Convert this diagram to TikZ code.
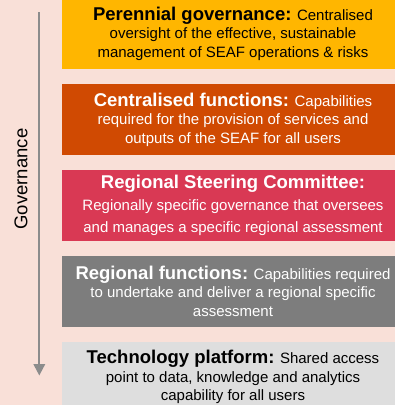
\documentclass[tikz,border=0pt]{standalone}
\usepackage{fontspec}
\setmainfont{Liberation Sans}
\usetikzlibrary{arrows.meta, positioning}
\definecolor{govyellow}{RGB}{255, 182, 0}
\definecolor{govorange}{RGB}{208, 74, 2}
\definecolor{govrose}{RGB}{217, 57, 84}
\definecolor{govgrey}{RGB}{125, 125, 125}
\definecolor{govlight}{RGB}{222, 222, 222}
\definecolor{govback}{RGB}{249, 224, 216}
\definecolor{govarrow}{RGB}{140, 140, 140}
\newcommand{\layerhead}[1]{{\fontsize{18.5}{18.5}\selectfont\bfseries #1}}

\begin{document}
\begin{tikzpicture}[x=1pt, y=-1pt,
  layer/.style={rectangle, minimum width=342pt, minimum height=71pt, inner sep=0pt, align=center, font=\fontsize{15}{18.5}\selectfont},
  node distance=14.5pt]
% Background
\clip (0,0) rectangle (395,405);
\fill[govback] (0,0) rectangle (395,405);

% Layers
\node[layer, fill=govyellow, text=black] (perennial) at (233,33.5) {\layerhead{Perennial governance:} Centralised\\oversight of the effective, sustainable\\management of SEAF operations \& risks};
\node[layer, fill=govorange, text=white, below=of perennial] (central) {\layerhead{Centralised functions:} Capabilities\\required for the provision of services and\\outputs of the SEAF for all users};
\node[layer, fill=govrose, text=white, font=\fontsize{15}{22}\selectfont, below=of central] (steering) {\layerhead{Regional Steering Committee:}\\Regionally specific governance that oversees\\and manages a specific regional assessment};
\node[layer, fill=govgrey, text=white, below=of steering] (regional) {\layerhead{Regional functions:} Capabilities required\\to undertake and deliver a regional specific\\assessment};
\node[layer, fill=govlight, text=black, below=of regional] (platform) {\layerhead{Technology platform:} Shared access\\point to data, knowledge and analytics\\capability for all users};

% Governance arrow
\coordinate (govtop) at (39.3,12);
\coordinate (govend) at (39.3,375.5);
\draw[-{Triangle[length=11.5pt, width=11.5pt]}, line width=2pt, govarrow] (govtop) -- (govend);
\node[rotate=90, font=\fontsize{18.5}{18.5}\selectfont] (govlabel) at (21,179) {Governance};
\end{tikzpicture}
\end{document}
